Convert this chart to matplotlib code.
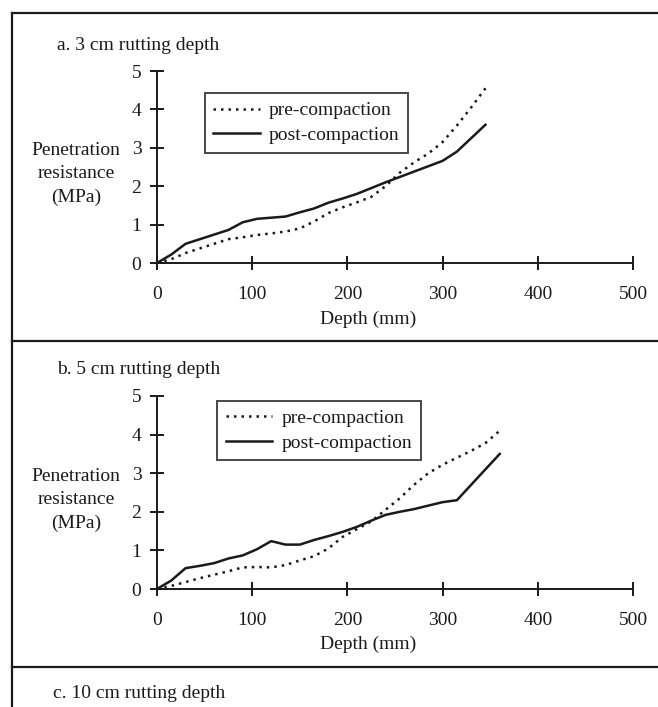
import matplotlib
matplotlib.use("Agg")
import matplotlib.pyplot as plt
from matplotlib.lines import Line2D

plt.rcParams["font.family"] = ["Liberation Serif", "DejaVu Serif"]

# -------------------------------
# DATA
# -------------------------------
depth_a = [0, 15, 30, 45, 60, 75, 90, 105, 120, 135, 150, 165, 180, 195,
           210, 225, 240, 255, 270, 285, 300, 315, 330, 345]
pre_a = [0, 0.10, 0.26, 0.38, 0.50, 0.62, 0.67, 0.73, 0.77, 0.82, 0.90, 1.08,
         1.30, 1.45, 1.58, 1.72, 2.00, 2.35, 2.62, 2.85, 3.15, 3.58, 4.05, 4.55]
post_a = [0, 0.22, 0.50, 0.62, 0.74, 0.86, 1.06, 1.15, 1.18, 1.21, 1.32, 1.42,
          1.57, 1.68, 1.80, 1.95, 2.10, 2.24, 2.38, 2.52, 2.66, 2.90, 3.25, 3.60]

depth_b = [0, 15, 30, 45, 60, 75, 90, 105, 120, 135, 150, 165, 180, 195,
           210, 225, 240, 255, 270, 285, 300, 315, 330, 345, 360]
pre_b = [0, 0.08, 0.18, 0.28, 0.37, 0.46, 0.56, 0.57, 0.56, 0.62, 0.74, 0.85,
         1.05, 1.35, 1.55, 1.75, 2.05, 2.35, 2.70, 3.00, 3.22, 3.40, 3.58, 3.78, 4.10]
post_b = [0, 0.22, 0.54, 0.60, 0.67, 0.79, 0.87, 1.03, 1.24, 1.15, 1.15, 1.27,
          1.37, 1.48, 1.61, 1.77, 1.92, 2.00, 2.07, 2.16, 2.25, 2.30, 2.70, 3.10, 3.50]

titles = ["a. 3 cm rutting depth", "b. 5 cm rutting depth", "c. 10 cm rutting depth"]
series_names = ["pre-compaction", "post-compaction"]
x_ticks = [0, 100, 200, 300, 400, 500]
y_ticks = [0, 1, 2, 3, 4, 5]

# -------------------------------
# LAYOUT
# -------------------------------
W, H = 658, 707
INK = "#1a1a1a"
FS = 14

fig = plt.figure(figsize=(W / 100, H / 100), dpi=100)


def fx(px):
    return px / W


def fy(py):
    return 1 - py / H


# panel frames (pixel positions)
panels = [
    dict(l=157, r=633, y0=263, y5=71, leg=(0.10, 0.885), ty=45, dy=319, yl=174),
    dict(l=157, r=633, y0=589, y5=396, leg=(0.126, 0.975), ty=369, dy=644, yl=500),
]
data = [(depth_a, pre_a, post_a), (depth_b, pre_b, post_b)]

for p, (d, pre, post), title in zip(panels, data, titles):
    ax = fig.add_axes([fx(p["l"]), fy(p["y0"]), fx(p["r"] - p["l"]), (p["y0"] - p["y5"]) / H])
    ax.plot(d, pre, color=INK, lw=1.8, ls=(0, (1, 2.0)), label=series_names[0])
    ax.plot(d, post, color=INK, lw=1.8, ls="-", label=series_names[1])
    ax.set_xlim(0, 500)
    ax.set_ylim(0, 5)
    ax.set_xticks(x_ticks)
    ax.set_yticks(y_ticks)
    for s in ["top", "right"]:
        ax.spines[s].set_visible(False)
    for s in ["left", "bottom"]:
        ax.spines[s].set_linewidth(1.4)
        ax.spines[s].set_color(INK)
    ax.tick_params(axis="both", direction="inout", length=9.5, width=1.4,
                   color=INK, labelcolor=INK, labelsize=FS)
    ax.tick_params(axis="x", pad=11.5)
    ax.tick_params(axis="y", pad=6.5)
    ax.patch.set_alpha(0)
    leg = ax.legend(loc="upper left", bbox_to_anchor=p["leg"], fontsize=FS,
                    frameon=True, fancybox=False, handlelength=2.4,
                    handletextpad=0.45, borderpad=0.45, labelspacing=0.35,
                    borderaxespad=0)
    leg.get_frame().set_edgecolor(INK)
    leg.get_frame().set_linewidth(1.4)
    for t in leg.get_texts():
        t.set_color(INK)

    fig.text(fx(57), fy(p["ty"]), title, fontsize=FS, color=INK, va="center", ha="left")
    fig.text(fx(368), fy(p["dy"]), "Depth (mm)", fontsize=FS, color=INK, va="center", ha="center")
    fig.text(fx(76), fy(p["yl"]), "Penetration\nresistance\n(MPa)", fontsize=FS,
             color=INK, va="center", ha="center", linespacing=1.5)

fig.text(fx(53), fy(693), titles[2], fontsize=FS, color=INK, va="center", ha="left")

# box lines around the panels
for (x1, y1, x2, y2) in [(12, 13, 658, 13), (12, 13, 12, 707),
                         (12, 341, 658, 341), (12, 667, 658, 667)]:
    fig.add_artist(Line2D([fx(x1), fx(x2)], [fy(y1), fy(y2)], color=INK, lw=1.6))

fig.savefig("out.png", dpi=100, facecolor="white")
